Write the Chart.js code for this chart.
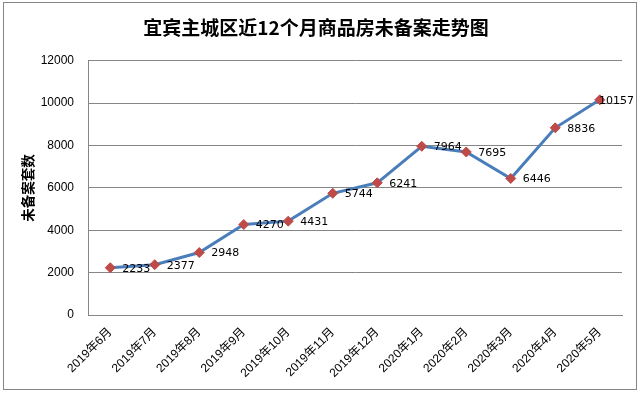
<!DOCTYPE html>
<html>
<head>
<meta charset="utf-8">
<script src="https://cdn.jsdelivr.net/npm/chart.js@4/dist/chart.umd.min.js"></script>
<style>
  html, body { margin: 0; padding: 0; background: #fff; }
  #wrap { width: 639px; height: 394px; position: relative; }
</style>
</head>
<body>
<div id="wrap"><canvas id="myChart" width="639" height="394"></canvas></div>
<script>
/* DATA */

const months = ["2019年6月", "2019年7月", "2019年8月", "2019年9月", "2019年10月", "2019年11月",
  "2019年12月", "2020年1月", "2020年2月", "2020年3月", "2020年4月", "2020年5月"];
const unfiled = [2233, 2377, 2948, 4270, 4431, 5744, 6241, 7964, 7695, 6446, 8836, 10157];
const yTicks = [0, 2000, 4000, 6000, 8000, 10000, 12000];

const cjk = "'Liberation Sans', 'Noto Sans CJK SC', sans-serif";

/* OUTER FRAME */

const framePlugin = {
  id: 'frame',
  beforeDraw(chart) {
    const ctx = chart.ctx;
    ctx.save();
    ctx.fillStyle = '#fff';
    ctx.fillRect(0, 0, chart.width, chart.height);
    ctx.strokeStyle = '#868686';
    ctx.lineWidth = 1;
    ctx.strokeRect(3.5, 2.5, 633, 387);
    ctx.restore();
  }
};

/* DATA LABELS TO THE RIGHT OF EACH POINT */

const labelPlugin = {
  id: 'pointLabels',
  afterDatasetsDraw(chart) {
    const ctx = chart.ctx;
    const meta = chart.getDatasetMeta(0);
    ctx.save();
    ctx.font = "11px 'DejaVu Sans'";
    ctx.fillStyle = '#000';
    ctx.textBaseline = 'middle';
    ctx.textAlign = 'left';
    meta.data.forEach((pt, i) => {
      const txt = String(unfiled[i]);
      const w = ctx.measureText(txt).width;
      let x = pt.x + 12;
      if (x + w > 634) x = 634 - w;
      ctx.fillText(txt, x, pt.y + 1);
    });
    ctx.restore();
  }
};

/* CHART */

function printChart() {
  const ctx = document.getElementById('myChart').getContext('2d');
  new Chart(ctx, {
    type: 'line',
    data: {
      labels: months,
      datasets: [{
        label: '未备案套数',
        data: unfiled,
        borderColor: '#4A7EBB',
        borderWidth: 3,
        tension: 0,
        pointStyle: 'rectRot',
        pointRadius: 5,
        pointBackgroundColor: '#BE4B48',
        pointBorderColor: '#BE4B48',
        pointBorderWidth: 1
      }]
    },
    options: {
      responsive: false,
      animation: false,
      layout: { padding: { left: 10, right: 17, top: 0, bottom: 6 } },
      plugins: {
        legend: { display: false },
        tooltip: { enabled: false },
        title: {
          display: true,
          text: '宜宾主城区近12个月商品房未备案走势图',
          color: '#000',
          font: { family: "'Noto Sans CJK SC', sans-serif", size: 19, weight: 'bold', lineHeight: 1.2 },
          padding: { top: 16, bottom: 22 }
        }
      },
      scales: {
        x: {
          offset: true,
          grid: { display: false, drawTicks: false },
          border: { color: '#868686', width: 1 },
          ticks: {
            color: '#000',
            font: { family: cjk, size: 12 },
            maxRotation: 45,
            minRotation: 45,
            padding: 10,
            autoSkip: false
          },
          afterFit(scale) { scale.height = 73; }
        },
        y: {
          min: 0,
          max: 12000,
          afterBuildTicks(scale) { scale.ticks = yTicks.map(v => ({ value: v })); },
          grid: { color: '#868686', drawTicks: false, tickLength: 0 },
          border: { color: '#868686', width: 1 },
          ticks: {
            color: '#000',
            font: { family: "'Liberation Sans'", size: 12 },
            padding: 14,
            callback: (v) => String(v)
          },
          title: {
            display: true,
            text: '未备案套数',
            color: '#000',
            font: { family: "'Noto Sans CJK SC', sans-serif", size: 13.5, weight: 'bold' },
            padding: { top: 10, bottom: 0 }
          },
          afterFit(scale) { scale.width = 78; }
        }
      }
    },
    plugins: [framePlugin, labelPlugin]
  });
}

printChart();
</script>
</body>
</html>
